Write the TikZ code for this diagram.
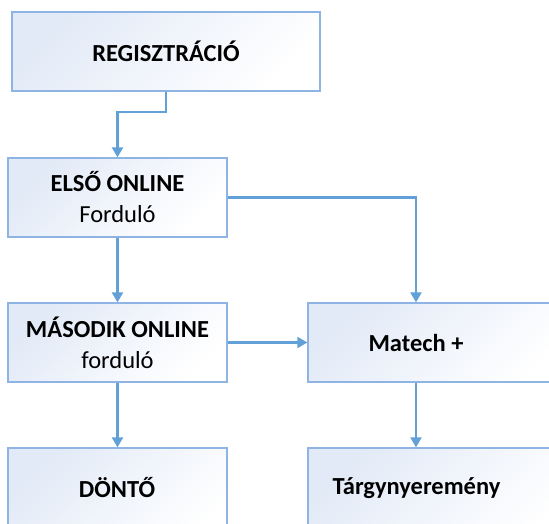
\documentclass[tikz,border=0pt]{standalone}
\usepackage{fontspec}
\setmainfont{Carlito}
\usetikzlibrary{arrows.meta}
\definecolor{boxline}{RGB}{141,180,226}
\definecolor{arrline}{RGB}{98,160,216}
\definecolor{boxfill}{RGB}{226,234,247}
\tikzset{
  box/.style={draw=boxline, line width=1.3pt, rectangle, inner sep=0pt,
    top color=boxfill, bottom color=white, shading angle=45, align=center,
    font=\fontsize{24.5}{31}\selectfont},
  lbl/.style={inner sep=0pt, align=center, font=\fontsize{24.5}{31}\selectfont},
  arr/.style={draw=arrline, line width=2.2pt, -{Triangle[width=11pt,length=10pt]}}
}
\begin{document}
\begin{tikzpicture}[x=1pt,y=-1pt]
\clip (0,0) rectangle (549,523);
\fill[white] (0,0) rectangle (549,523);
\node[box, minimum width=308pt, minimum height=79pt] (reg) at (166,51.5) {\bfseries REGISZTRÁCIÓ};
\node[box, minimum width=219pt, minimum height=79pt] (elso) at (117.5,197.5) {\bfseries ELSŐ ONLINE\\Forduló};
\node[box, minimum width=219pt, minimum height=79pt] (masodik) at (117.5,342.5) {\bfseries MÁSODIK ONLINE\\forduló};
\node[box, minimum width=219pt, minimum height=100pt] (dont) at (117.5,498) {};
\node[lbl] (donttext) at (117,488) {\bfseries DÖNTŐ};
\node[box, minimum width=262pt, minimum height=79pt] (matech) at (439,342.5) {};
\node[lbl] (matechtext) at (416,342.5) {\bfseries Matech +};
\node[box, minimum width=262pt, minimum height=100pt] (targy) at (439,498) {};
\node[lbl] (targytext) at (416.5,488) {\bfseries Tárgynyeremény};
\draw[arr] (reg.south) -- ++(0,20) -| (elso.north);
\draw[arr] (elso.south) -- (masodik.north);
\draw[arr] (elso.east) -| (matechtext |- matech.north);
\draw[arr] (masodik.east) -- (matech.west |- masodik.east);
\draw[arr] (masodik.south) -- (dont.north);
\draw[arr] (matechtext |- matech.south) -- (matechtext |- targy.north);
\end{tikzpicture}
\end{document}
